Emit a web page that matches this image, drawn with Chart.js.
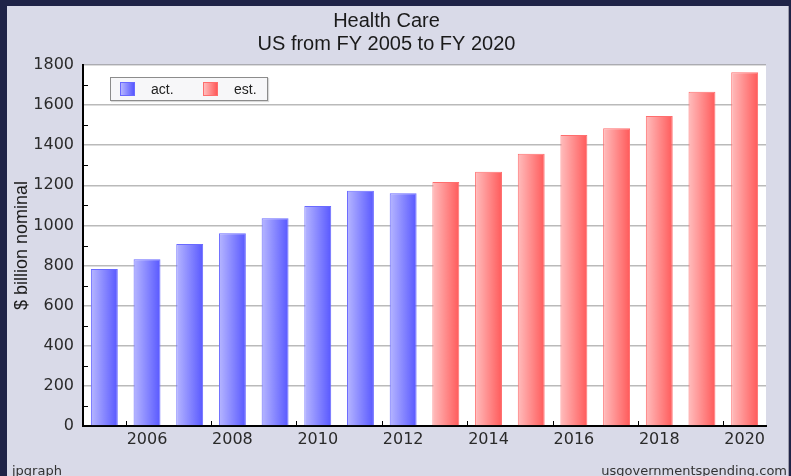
<!DOCTYPE html>
<html>
<head>
<meta charset="utf-8">
<script src="https://cdn.jsdelivr.net/npm/chart.js@4/dist/chart.umd.min.js"></script>
<style>
    body { margin: 0; background: #1f2347; width: 791px; height: 476px; overflow: hidden; }
    #panel { position: absolute; left: 7px; top: 6px; width: 781px; height: 470px; background: #d9dae8; border-right: 1px solid #9c9cab; overflow: hidden; }
    #legendBox { position: absolute; left: 103px; top: 71px; width: 156px; height: 22px; background: #f7f7f9; border: 1px solid #8c8c8c; box-shadow: 1px 1px 1px rgba(0,0,0,0.15); font: 14px "Liberation Sans", Arial, sans-serif; color: #222; }
    .lg-item { position: absolute; top: 4px; line-height: 14px; }
    .lg-swatch { position: absolute; top: 0; width: 13px; height: 12px; }
    .lg-text { position: absolute; top: 0; white-space: nowrap; }
    .foot { position: absolute; top: 457px; font: 13px "DejaVu Sans", sans-serif; color: #333; white-space: nowrap; }
</style>
</head>
<body>
<div id="panel">
    <canvas id="healthChart" width="781" height="470"></canvas>
    <div id="legendBox"></div>
    <div class="foot" style="left: 5px;">jpgraph</div>
    <div class="foot" style="right: 1px;">usgovernmentspending.com</div>
</div>
<script>
// Health care spending, $ billion nominal
const years = ['2005', '2006', '2007', '2008', '2009', '2010', '2011', '2012',
               '2013', '2014', '2015', '2016', '2017', '2018', '2019', '2020'];
const actualSpend = [783, 831, 907, 961, 1036, 1097, 1173, 1161];          // FY 2005-2012
const estimatedSpend = [1216, 1268, 1357, 1451, 1485, 1546, 1667, 1764];  // FY 2013-2020
const yTicks = [0, 200, 400, 600, 800, 1000, 1200, 1400, 1600, 1800];

const BAR_PCT = 0.63;

// pad each series to the full year range so the bars land in the right slot
const actData = years.map((y, i) => i < actualSpend.length ? actualSpend[i] : null);
const estData = years.map((y, i) => i >= actualSpend.length ? estimatedSpend[i - actualSpend.length] : null);

function barFill(light, dark) {
    return (ctx) => {
        const xs = ctx.chart.scales.x;
        if (!xs || ctx.dataIndex === undefined || !xs.width) return dark;
        const c = xs.getPixelForValue(ctx.dataIndex);
        const w = xs.width / years.length * BAR_PCT;
        const g = ctx.chart.ctx.createLinearGradient(c - w / 2, 0, c + w / 2, 0);
        g.addColorStop(0, light);
        g.addColorStop(1, dark);
        return g;
    };
}

// white plot area
const plotBg = {
    id: 'plotBg',
    beforeDraw(chart) {
        const { ctx, chartArea: a } = chart;
        ctx.save();
        ctx.fillStyle = '#ffffff';
        ctx.fillRect(a.left, a.top, a.right - a.left, a.bottom - a.top);
        ctx.restore();
    }
};

// small inward ticks: odd hundreds on y, every other category boundary on x
const innerTicks = {
    id: 'innerTicks',
    afterDraw(chart) {
        const { ctx, chartArea: a, scales: { x, y } } = chart;
        ctx.save();
        ctx.strokeStyle = '#000';
        ctx.lineWidth = 1;
        ctx.beginPath();
        for (let v = 100; v < 1800; v += 200) {
            const py = Math.round(y.getPixelForValue(v)) + 0.5;
            ctx.moveTo(a.left, py);
            ctx.lineTo(a.left + 5, py);
        }
        const cat = x.width / years.length;
        years.forEach((yr, i) => {
            if (i > 0 && Number(yr) % 2 === 0) {
                const px = Math.round(x.getPixelForValue(i) - cat / 2) + 0.5;
                ctx.moveTo(px, a.bottom);
                ctx.lineTo(px, a.bottom - 5);
            }
        });
        ctx.stroke();
        ctx.restore();
    }
};

Chart.defaults.font.family = '"DejaVu Sans", sans-serif';
Chart.defaults.color = '#2a2a2a';

const chart = new Chart(document.getElementById('healthChart'), {
    type: 'bar',
    data: {
        labels: years,
        datasets: [
            {
                label: 'act.',
                data: actData,
                backgroundColor: barFill('#b6b6ff', '#5858ff'),
                borderColor: '#6a6aff',
                borderWidth: 1,
                grouped: false,
                categoryPercentage: 1,
                barPercentage: BAR_PCT,
                swatch: ['#b6b6ff', '#5858ff', '#6a6aff']
            },
            {
                label: 'est.',
                data: estData,
                backgroundColor: barFill('#ffbdbd', '#ff5a5a'),
                borderColor: '#ff6e6e',
                borderWidth: 1,
                grouped: false,
                categoryPercentage: 1,
                barPercentage: BAR_PCT,
                swatch: ['#ffbdbd', '#ff5a5a', '#ff6e6e']
            }
        ]
    },
    options: {
        responsive: false,
        animation: false,
        layout: { padding: { left: 0, right: 22, top: 0, bottom: 0 } },
        plugins: {
            legend: { display: false },
            tooltip: { enabled: false },
            title: {
                display: true,
                text: ['Health Care', 'US from FY 2005 to FY 2020'],
                color: '#1a1a1a',
                font: { family: '"Liberation Sans", Arial, sans-serif', size: 20, weight: 'normal', lineHeight: 1.15 },
                padding: { top: 3.5, bottom: 9.5 }
            }
        },
        scales: {
            x: {
                grid: { display: false, drawTicks: false },
                border: { display: true, color: '#000', width: 2 },
                ticks: {
                    autoSkip: false,
                    maxRotation: 0,
                    padding: 4,
                    font: { size: 16 },
                    callback: (v, i) => Number(years[i]) % 2 === 0 ? years[i] : ''
                },
                afterFit: (scale) => { scale.height = 50; }
            },
            y: {
                min: 0,
                max: 1800,
                z: 1,
                afterBuildTicks: (scale) => { scale.ticks = yTicks.map(v => ({ value: v })); },
                ticks: { padding: 9, font: { size: 16 }, callback: (v) => String(v) },
                grid: { color: 'rgba(140,140,140,0.6)', lineWidth: 1.5, drawTicks: false },
                border: { display: true, color: '#000', width: 2 },
                title: {
                    display: true,
                    text: '$ billion nominal',
                    color: '#1a1a1a',
                    font: { family: '"Liberation Sans", Arial, sans-serif', size: 18 },
                    padding: { top: 4, bottom: 0 }
                },
                afterFit: (scale) => { scale.width = 76; }
            }
        }
    },
    plugins: [plotBg, innerTicks]
});

// legend box inside the plot, built from the datasets
const legendBox = document.getElementById('legendBox');
chart.data.datasets.forEach((ds, i) => {
    const item = document.createElement('div');
    item.className = 'lg-item';
    item.style.left = (9 + i * 83) + 'px';
    item.innerHTML = `
        <span class="lg-swatch" style="left:0; background: linear-gradient(to right, ${ds.swatch[0]}, ${ds.swatch[1]}); border: 1px solid ${ds.swatch[2]};"></span>
        <span class="lg-text" style="left:31px;">${ds.label}</span>
    `;
    legendBox.appendChild(item);
});
</script>
</body>
</html>
